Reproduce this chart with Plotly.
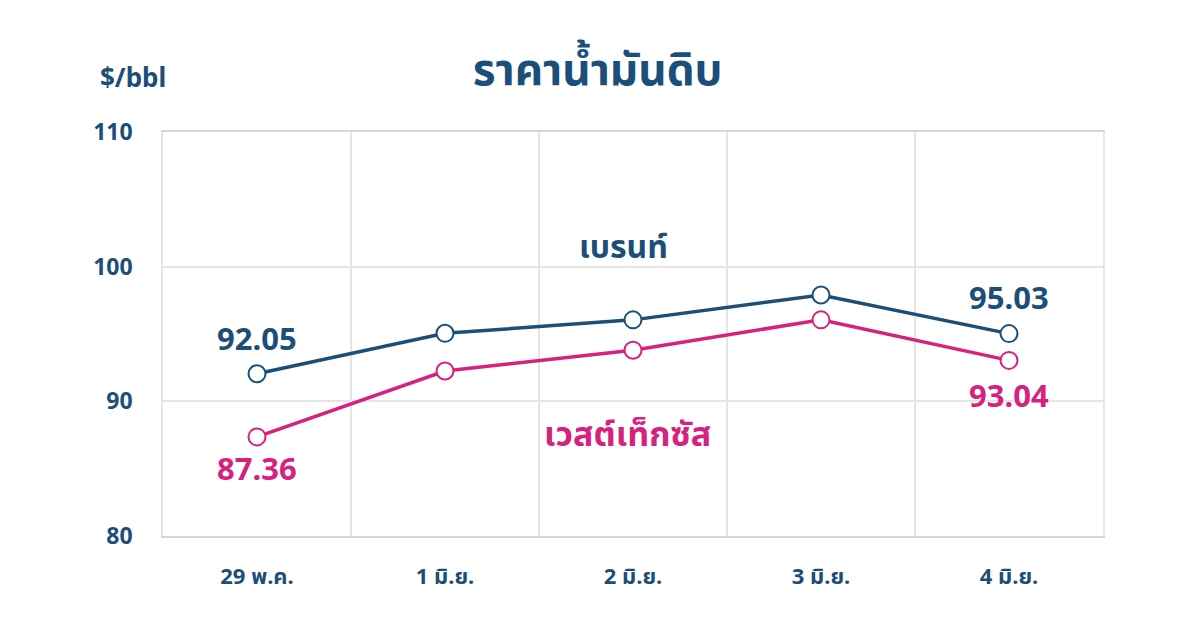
import plotly.graph_objects as go

categories = ["29 พ.ค.", "1 มิ.ย.", "2 มิ.ย.", "3 มิ.ย.", "4 มิ.ย."]
brent = [92.05, 95.05, 96.05, 97.9, 95.03]
wti = [87.36, 92.25, 93.8, 96.05, 93.04]
y_ticks = [80, 90, 100, 110]

NAVY = "#1B4F7A"
PINK = "#D6217F"
FONT = "Noto Sans, Noto Sans Thai, sans-serif"

PLOT_W = 1200 - 163 - 97
PLOT_H = 618 - 132 - 82

fig = go.Figure()
for name, vals, col in [("เบรนท์", brent, NAVY), ("เวสต์เท็กซัส", wti, PINK)]:
    fig.add_trace(go.Scatter(
        x=categories, y=vals, mode="lines+markers", name=name,
        line=dict(color=col, width=3.5),
        marker=dict(size=17, color="white", line=dict(color=col, width=2)),
        showlegend=False, hoverinfo="skip",
    ))

# value labels (first and last points)
for vals, col, shifts in [(brent, NAVY, (36, 37)), (wti, PINK, (-31, -35))]:
    for idx, sh in zip((0, len(vals) - 1), shifts):
        fig.add_annotation(x=idx, y=vals[idx], text=f"{vals[idx]:.2f}", showarrow=False,
                           yshift=sh, font=dict(family=FONT, size=31, color=col, weight="bold"))

# series name labels
fig.add_annotation(x=1.95, y=101.6, text="เบรนท์", showarrow=False,
                   font=dict(family=FONT, size=32, color=NAVY, weight="bold"))
fig.add_annotation(x=1.97, y=87.65, text="เวสต์เท็กซัส", showarrow=False,
                   font=dict(family=FONT, size=34, color=PINK, weight="bold"))

# unit label
fig.add_annotation(x=(98 - 163) / PLOT_W, xref="paper", y=1 + (132 - 77) / PLOT_H,
                   yref="paper", xanchor="left", yanchor="middle", text="$/bbl", showarrow=False,
                   font=dict(family=FONT, size=26, color=NAVY, weight="bold"))

fig.update_layout(
    width=1200, height=618,
    margin=dict(l=163, r=97, t=132, b=82),
    paper_bgcolor="white", plot_bgcolor="white",
    title=dict(text="ราคาน้ำมันดิบ", x=0.498, xanchor="center", y=1 - 70 / 618, yanchor="middle",
               font=dict(family=FONT, size=44, color=NAVY, weight="bold")),
    xaxis=dict(type="category", range=[-0.5, 4.5], tickson="boundaries", showgrid=True,
               gridcolor="#e6e6e6", gridwidth=1.5, showline=True, linecolor="#d6d6d6",
               linewidth=2, mirror=True, ticks="", ticklabelstandoff=20,
               tickfont=dict(family=FONT, size=22, color=NAVY, weight="bold")),
    yaxis=dict(range=[80, 110], tickvals=y_ticks, showgrid=True, gridcolor="#e6e6e6",
               gridwidth=1.5, showline=True, linecolor="#e6e6e6", linewidth=1.5, mirror=True,
               zeroline=False, ticks="", ticklabelstandoff=24,
               tickfont=dict(family=FONT, size=23, color=NAVY, weight="bold")),
)

fig.write_html("out.html")
